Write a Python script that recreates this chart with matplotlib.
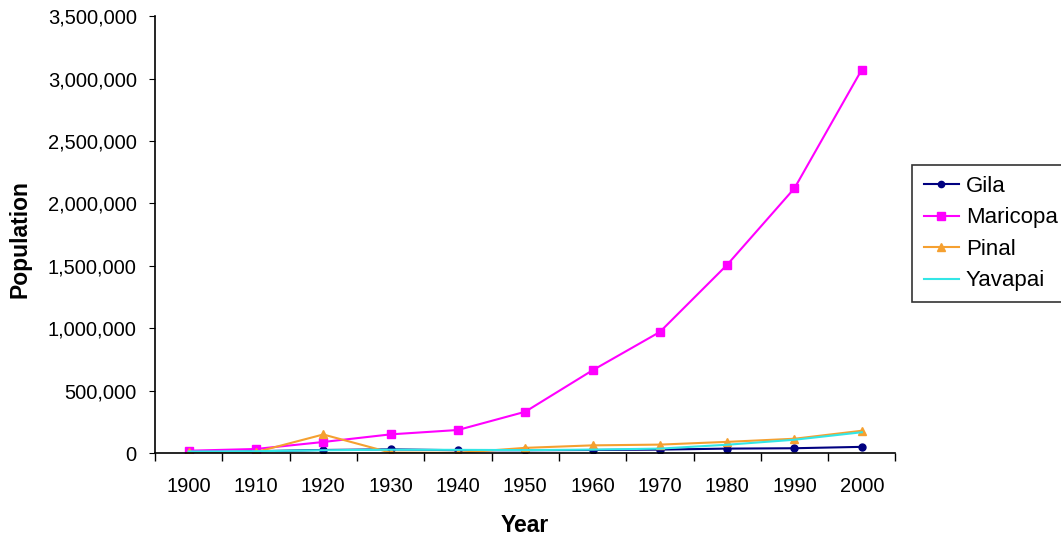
import matplotlib
matplotlib.use("Agg")
import matplotlib.pyplot as plt
from matplotlib.ticker import FuncFormatter

# Population by county
years = ["1900", "1910", "1920", "1930", "1940", "1950", "1960", "1970", "1980", "1990", "2000"]
gila = [5000, 16000, 26000, 31000, 24000, 24000, 26000, 29000, 37000, 40000, 51000]
maricopa = [20000, 34000, 90000, 151000, 186000, 332000, 664000, 971000, 1509000, 2122000, 3072000]
pinal = [8000, 9000, 150000, 5000, 3000, 43000, 63000, 69000, 91000, 116000, 180000]
yavapai = [14000, 16000, 24000, 28000, 27000, 25000, 29000, 37000, 68000, 108000, 168000]

plt.rcParams["font.family"] = ["Liberation Sans", "DejaVu Sans"]

fig = plt.figure(figsize=(10.61, 5.37), dpi=100)
ax = fig.add_axes([0.146, 0.156, 0.698, 0.814])

x = range(len(years))
ax.plot(x, gila, color="#000080", marker="o", markersize=5, lw=1.5, label="Gila")
ax.plot(x, maricopa, color="#FF00FF", marker="s", markersize=6, lw=1.5, label="Maricopa")
ax.plot(x, pinal, color="#F5A030", marker="^", markersize=6, lw=1.5, label="Pinal")
ax.plot(x, yavapai, color="#33E6E6", lw=1.5, label="Yavapai")

ax.set_xlim(-0.5, len(years) - 0.5)
ax.set_ylim(0, 3500000)
ax.set_yticks(range(0, 3500001, 500000))
ax.yaxis.set_major_formatter(FuncFormatter(lambda v, p: f"{int(v):,}"))

# category labels centred, ticks on the boundaries
ax.set_xticks(list(x))
ax.set_xticklabels(years)
ax.set_xticks([i - 0.5 for i in range(len(years) + 1)], minor=True)
ax.tick_params(axis="x", which="major", length=0, pad=17, labelsize=14.5)
ax.tick_params(axis="x", which="minor", length=6, direction="out", width=1)
ax.tick_params(axis="y", length=4, direction="out", labelsize=14.5, pad=9)

for s in ["top", "right"]:
    ax.spines[s].set_visible(False)
ax.spines["left"].set_linewidth(1.2)
ax.spines["bottom"].set_linewidth(1.2)

ax.set_xlabel("Year", fontsize=16.5, fontweight="bold")
ax.set_ylabel("Population", fontsize=16.5, fontweight="bold")
ax.xaxis.set_label_coords(0.5, -0.14)
ax.yaxis.set_label_coords(-0.166, 0.49)

leg = ax.legend(loc="upper left", bbox_to_anchor=(0.86, 0.693), bbox_transform=fig.transFigure,
                borderaxespad=0, fancybox=False, edgecolor="black", fontsize=16,
                handlelength=1.6, handletextpad=0.3, labelspacing=0.47, borderpad=0.5,
                markerscale=0.9)
leg.get_frame().set_linewidth(1.2)

fig.savefig("out.png", dpi=100)
